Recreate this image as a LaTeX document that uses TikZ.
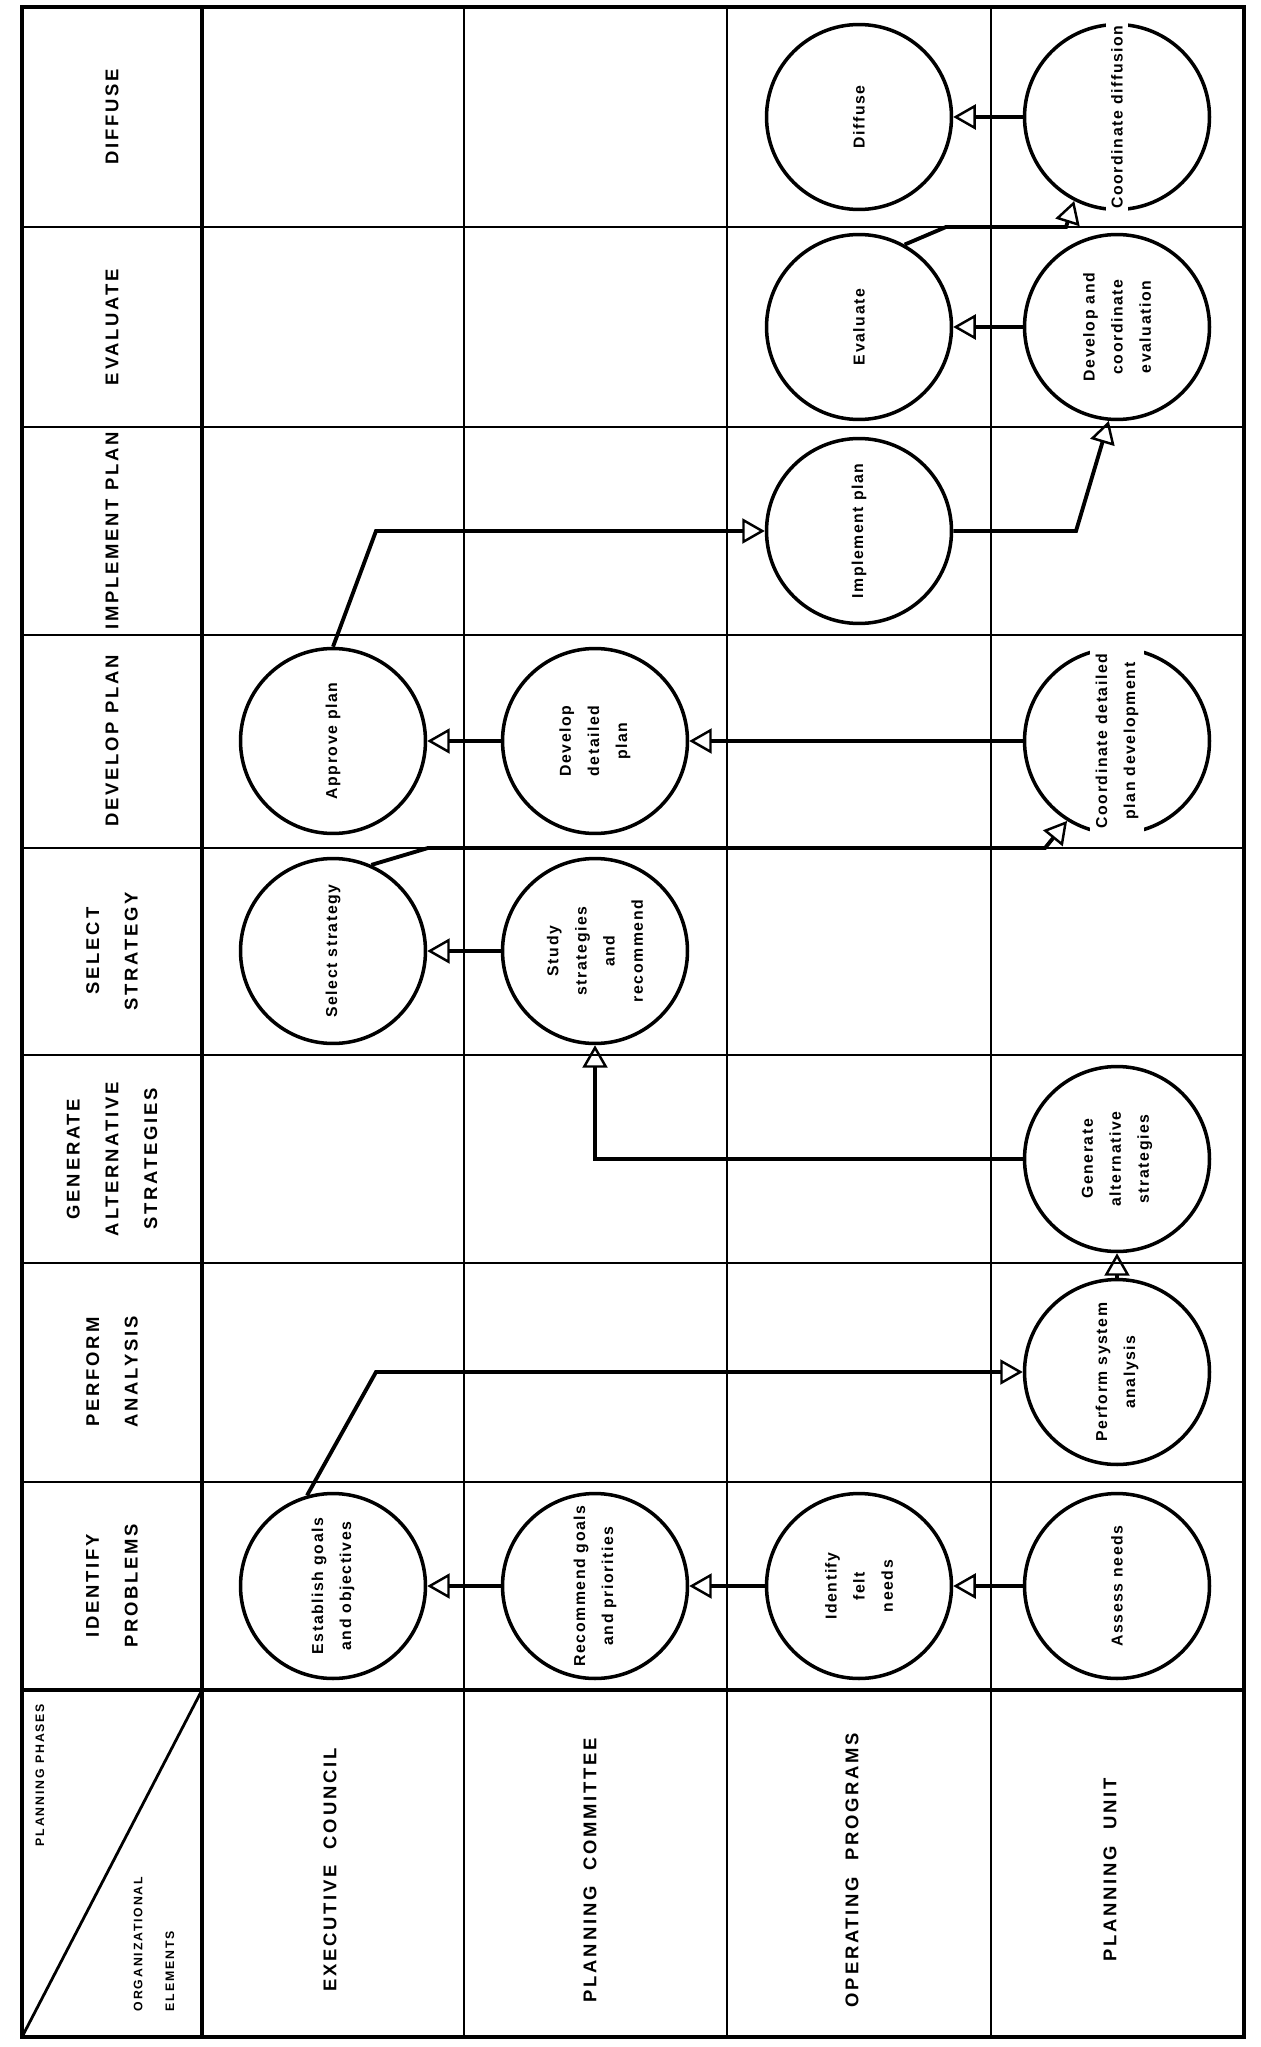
\documentclass[tikz,border=0pt]{standalone}
\usepackage{fontspec}
\setmainfont{Liberation Sans}
\newfontfamily\capsfont[LetterSpace=15]{Liberation Sans}
\newfontfamily\taskfont[LetterSpace=10]{Liberation Sans}
\usepackage{tikz}
\usetikzlibrary{arrows.meta, calc}

\begin{document}
\begin{tikzpicture}[x=0.02cm, y=-0.02cm,
    phase/.style={rotate=90, align=center, font=\capsfont\bfseries\fontsize{10.5}{22}\selectfont},
    corner/.style={rotate=90, font=\capsfont\bfseries\fontsize{7}{18}\selectfont},
    task/.style={draw, circle, line width=2pt, minimum size=3.7cm, inner sep=0pt},
    tasktext/.style={rotate=90, align=center, inner sep=2pt, font=\taskfont\bfseries\fontsize{9}{16}\selectfont},
    gapped/.style={fill=white, inner xsep=6pt, inner ysep=3pt},
    flow/.style={line width=2.2pt, -{Triangle[open, length=0.45cm, width=0.5cm, line width=1.4pt]}},
    rowline/.style={line width=1.6pt},
    colline/.style={line width=0.9pt}]
      \useasboundingbox (0,0) rectangle (1260,2047);

      % Frame and grid
      \draw[line width=2.4pt] (22,7) rectangle (1244,2037);
      \foreach \y in {227,427,635,848,1055,1263,1482}
        \draw[rowline] (22,\y) -- (1244,\y);
      \draw[line width=2pt] (22,1690) -- (1244,1690);
      \draw[line width=2pt] (202,7) -- (202,2037);
      \foreach \x in {464,727,991}
        \draw[colline] (\x,7) -- (\x,2037);
      \draw[line width=1.6pt] (22,2037) -- (202,1690);

      % Planning phases
      \node[phase] (diffuse) at (112,117) {DIFFUSE};
      \node[phase] (evaluate) at (112,327) {EVALUATE};
      \node[phase] (implement) at (112,531) {IMPLEMENT PLAN};
      \node[phase] (develop) at (112,741) {DEVELOP PLAN};
      \node[phase] (select) at (112,951) {SELECT\\STRATEGY};
      \node[phase] (generate) at (112,1159) {GENERATE\\ALTERNATIVE\\STRATEGIES};
      \node[phase] (perform) at (112,1372) {PERFORM\\ANALYSIS};
      \node[phase] (identify) at (112,1586) {IDENTIFY\\PROBLEMS};

      % Corner cell
      \node[corner] (phases) at (40,1775) {PLANNING PHASES};
      \node[corner, align=left] (elements) at (154,1944) {ORGANIZATIONAL\\ELEMENTS};

      % Organizational elements
      \node[phase] (council) at (330,1870) {EXECUTIVE\ \ COUNCIL};
      \node[phase] (committee) at (590,1870) {PLANNING\ \ COMMITTEE};
      \node[phase] (programs) at (852,1870) {OPERATING\ \ PROGRAMS};
      \node[phase] (unit) at (1110,1870) {PLANNING\ \ UNIT};

      % Identify problems
      \node[task] (est) at (333,1586) {};
      \node[tasktext] (estlbl) at (est) {Establish goals\\and objectives};
      \node[task] (rgp) at (595,1586) {};
      \node[tasktext] (rgplbl) at (rgp) {Recommend goals\\and priorities};
      \node[task] (ifn) at (859,1586) {};
      \node[tasktext] (ifnlbl) at (ifn) {Identify\\felt\\needs};
      \node[task] (asn) at (1117,1586) {};
      \node[tasktext] (asnlbl) at (asn) {Assess needs};

      % Perform analysis, generate strategies
      \node[task] (psa) at (1117,1372) {};
      \node[tasktext] (psalbl) at (psa) {Perform system\\analysis};
      \node[task] (gas) at (1117,1159) {};
      \node[tasktext] (gaslbl) at (gas) {Generate\\alternative\\strategies};

      % Select strategy
      \node[task] (sel) at (333,951) {};
      \node[tasktext] (sellbl) at (sel) {Select strategy};
      \node[task] (sts) at (595,951) {};
      \node[tasktext] (stslbl) at (sts) {Study\\strategies\\and\\recommend};

      % Develop plan
      \node[task] (app) at (333,741) {};
      \node[tasktext] (applbl) at (app) {Approve plan};
      \node[task] (ddp) at (595,741) {};
      \node[tasktext] (ddplbl) at (ddp) {Develop\\detailed\\plan};
      \node[task] (cdp) at (1117,741) {};
      \node[tasktext, gapped] (cdplbl) at (cdp) {Coordinate detailed\\plan development};

      % Implement, evaluate, diffuse
      \node[task] (imp) at (859,531) {};
      \node[tasktext] (implbl) at (imp) {Implement plan};
      \node[task] (eva) at (859,327) {};
      \node[tasktext] (evalbl) at (eva) {Evaluate};
      \node[task] (dce) at (1117,327) {};
      \node[tasktext] (dcelbl) at (dce) {Develop and\\coordinate\\evaluation};
      \node[task] (dif) at (859,117) {};
      \node[tasktext] (diflbl) at (dif) {Diffuse};
      \node[task] (cdf) at (1117,117) {};
      \node[tasktext, gapped] (cdflbl) at (cdf) {Coordinate diffusion};

      % Bends
      \coordinate (estbend) at (376,1372);
      \coordinate (selbend) at (428,848);
      \coordinate (cdpbend) at (1045,848);
      \coordinate (appbend) at (376,531);
      \coordinate (impbend) at (1076,531);
      \coordinate (evabend) at (946,227);
      \coordinate (cdfbend) at (1066,227);

      % Arrows
      \draw[flow] (asn) -- (ifn);
      \draw[flow] (ifn) -- (rgp);
      \draw[flow] (rgp) -- (est);
      \draw[flow] (est.106) -- (estbend) -- (psa);
      \draw[flow] (psa) -- (gas);
      \draw[flow] (gas.west) -| (sts);
      \draw[flow] (sts) -- (sel);
      \draw[flow] (sel.66) -- (selbend) -- (cdpbend) -- (cdp.238);
      \draw[flow] (cdp) -- (ddp);
      \draw[flow] (ddp) -- (app);
      \draw[flow] (app.north) -- (appbend) -- (imp);
      \draw[flow] (imp) -- (impbend) -- (dce.265);
      \draw[flow] (dce) -- (eva);
      \draw[flow] (eva.61) -- (evabend) -- (cdfbend) -- (cdf.243);
      \draw[flow] (cdf) -- (dif);
    \end{tikzpicture}
\end{document}
